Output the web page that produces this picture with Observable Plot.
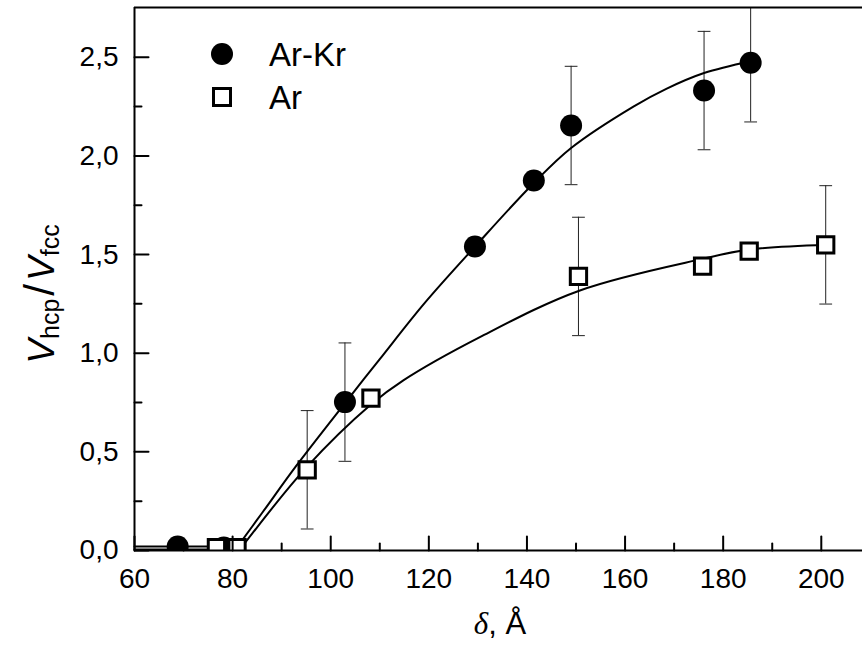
<!DOCTYPE html>
<html><head><meta charset="utf-8">
<script src="https://cdn.jsdelivr.net/npm/d3@7"></script>
<script src="https://cdn.jsdelivr.net/npm/@observablehq/plot@0.6"></script>
<style>body{margin:0;background:#fff} #chart{width:862px;height:646px}</style>
</head><body><div id="chart"></div>
<script>
// Measured data (Ar-Kr: filled circles, Ar: open squares)
const arkrX = [68.8, 78.2, 102.9, 129.4, 141.4, 149.0, 176.1, 185.6];
const arkrY = [0.02, 0.015, 0.752, 1.541, 1.875, 2.154, 2.331, 2.472];
const arkrErr = [0, 0, 0.3, 0, 0, 0.3, 0.3, 0.3];
const arX = [76.7, 80.9, 95.2, 108.2, 150.5, 175.8, 185.3, 200.9];
const arY = [0.015, 0.015, 0.409, 0.772, 1.389, 1.441, 1.517, 1.549];
const arErr = [0, 0, 0.3, 0, 0.3, 0, 0, 0.3];
// Fitted curves
const arkrFitX = [60, 81, 86, 93, 103, 110, 119, 129.4, 141.3, 149, 161.7, 168.4, 176.1, 185.6];
const arkrFitY = [0.02, 0.02, 0.19, 0.43, 0.75, 0.97, 1.25, 1.54, 1.86, 2.04, 2.25, 2.34, 2.42, 2.48];
const arFitX = [60, 81.5, 95, 108.2, 114.8, 130.4, 150.8, 175.8, 185.3, 201];
const arFitY = [0.005, 0.005, 0.42, 0.74, 0.862, 1.081, 1.318, 1.478, 1.525, 1.55];
const kinkX = [81, 81.5]; // where each fit leaves the baseline
// Axes
const xMajor = [60, 80, 100, 120, 140, 160, 180, 200];
const xMinor = [70, 90, 110, 130, 150, 170, 190];
const xLabels = ["60", "80", "100", "120", "140", "160", "180", "200"];
const yMajor = [0, 0.5, 1, 1.5, 2, 2.5];
const yMinor = [0.25, 0.75, 1.25, 1.75, 2.25];
const yLabels = ["0,0", "0,5", "1,0", "1,5", "2,0", "2,5"];
const xDomain = [60, 208.4];
const yDomain = [0, 2.752];
const seriesNames = ["Ar-Kr", "Ar"];

const zip = (xs, ys, es) => xs.map((x, i) => ({x, y: ys[i], e: es ? es[i] : 0}));
const arkr = zip(arkrX, arkrY, arkrErr);
const ar = zip(arX, arY, arErr);
const arkrFit = zip(arkrFitX, arkrFitY);
const arFit = zip(arFitX, arFitY);
const errs = arkr.concat(ar).filter(d => d.e > 0);

const vline = {draw(ctx, l) { ctx.moveTo(0, 0); ctx.lineTo(0, -l); }};
const FONT = "Arial, 'Liberation Sans', sans-serif";
const lineOpts = {x: "x", y: "y", stroke: "black", strokeWidth: 2};

const chart = Plot.plot({
  width: 862, height: 646,
  marginLeft: 134, marginRight: 0, marginTop: 7, marginBottom: 96,
  x: {domain: xDomain, axis: null},
  y: {domain: yDomain, axis: null},
  style: {fontFamily: FONT, background: "white", color: "black"},
  marks: [
    // error bars
    Plot.ruleX(errs, {x: "x", y1: d => d.y - d.e, y2: d => d.y + d.e, stroke: "#222", strokeWidth: 1, clip: true}),
    Plot.vector(errs, {x: "x", y: d => d.y + d.e, length: 12, rotate: 90, anchor: "middle", shape: vline, stroke: "#222", strokeWidth: 1, clip: true}),
    Plot.vector(errs, {x: "x", y: d => d.y - d.e, length: 12, rotate: 90, anchor: "middle", shape: vline, stroke: "#222", strokeWidth: 1, clip: true}),
    // fit curves: flat part + smooth rise
    Plot.line(arkrFit.filter(d => d.x <= kinkX[0]), {...lineOpts}),
    Plot.line(arkrFit.filter(d => d.x >= kinkX[0]), {...lineOpts, curve: "catmull-rom"}),
    Plot.line(arFit.filter(d => d.x <= kinkX[1]), {...lineOpts}),
    Plot.line(arFit.filter(d => d.x >= kinkX[1]), {...lineOpts, curve: "catmull-rom"}),
    // points
    Plot.dot(arkr, {x: "x", y: "y", r: 11, fill: "black", stroke: "none", clip: true}),
    Plot.dot(ar, {x: "x", y: "y", symbol: "square", r: 9.2, fill: "white", stroke: "black", strokeWidth: 3, clip: true}),
    // frame
    Plot.ruleY([yDomain[0]], {stroke: "black", strokeWidth: 2}),
    Plot.ruleY([yDomain[1]], {stroke: "black", strokeWidth: 2}),
    Plot.ruleX([xDomain[0]], {stroke: "black", strokeWidth: 2}),
    // inward ticks
    Plot.vector(xMajor, {x: d => d, y: yDomain[0], length: 14, rotate: 0, anchor: "start", shape: vline, stroke: "black", strokeWidth: 2}),
    Plot.vector(xMinor, {x: d => d, y: yDomain[0], length: 7, rotate: 0, anchor: "start", shape: vline, stroke: "black", strokeWidth: 2}),
    Plot.vector(yMajor, {x: xDomain[0], y: d => d, length: 14, rotate: 90, anchor: "start", shape: vline, stroke: "black", strokeWidth: 2}),
    Plot.vector(yMinor, {x: xDomain[0], y: d => d, length: 7, rotate: 90, anchor: "start", shape: vline, stroke: "black", strokeWidth: 2}),
    // tick labels
    Plot.text(xMajor, {x: d => d, y: yDomain[0], text: (d, i) => xLabels[i], dy: 29, fontSize: 28, fill: "black"}),
    Plot.text(yMajor, {x: xDomain[0], y: d => d, text: (d, i) => yLabels[i], dx: -16, textAnchor: "end", fontSize: 28, fill: "black"})
  ]
});
document.getElementById("chart").appendChild(chart);

const svg = d3.select(chart);
// x-axis title
const xt = svg.append("text").attr("x", 500).attr("y", 634).attr("text-anchor", "middle")
  .attr("font-size", 31).attr("font-family", FONT).attr("fill", "black");
xt.append("tspan").attr("font-family", "'Liberation Serif', 'DejaVu Serif', serif").attr("font-style", "italic").text("δ");
xt.append("tspan").text(", Å");
// y-axis title
const yt = svg.append("text").attr("transform", "translate(54,294) rotate(-90)").attr("text-anchor", "middle")
  .attr("font-size", 37).attr("font-family", FONT).attr("fill", "black");
yt.append("tspan").attr("font-style", "italic").text("V");
yt.append("tspan").attr("font-size", 25).attr("dy", 5).text("hcp");
yt.append("tspan").attr("dy", -5).attr("dx", 3).attr("font-size", 42).text("/");
yt.append("tspan").attr("dx", 3).attr("font-style", "italic").text("V");
yt.append("tspan").attr("font-size", 25).attr("dy", 5).text("fcc");
// legend
const lg = svg.append("g").attr("font-family", FONT).attr("font-size", 33).attr("fill", "black").attr("text-anchor", "start");
lg.append("circle").attr("cx", 222).attr("cy", 54).attr("r", 11).attr("fill", "black");
lg.append("rect").attr("x", 213.5).attr("y", 88.5).attr("width", 17).attr("height", 17).attr("fill", "white").attr("stroke", "black").attr("stroke-width", 3);
lg.append("text").attr("x", 269).attr("y", 66).text(seriesNames[0]);
lg.append("text").attr("x", 269).attr("y", 109).text(seriesNames[1]);
</script>
</body></html>
